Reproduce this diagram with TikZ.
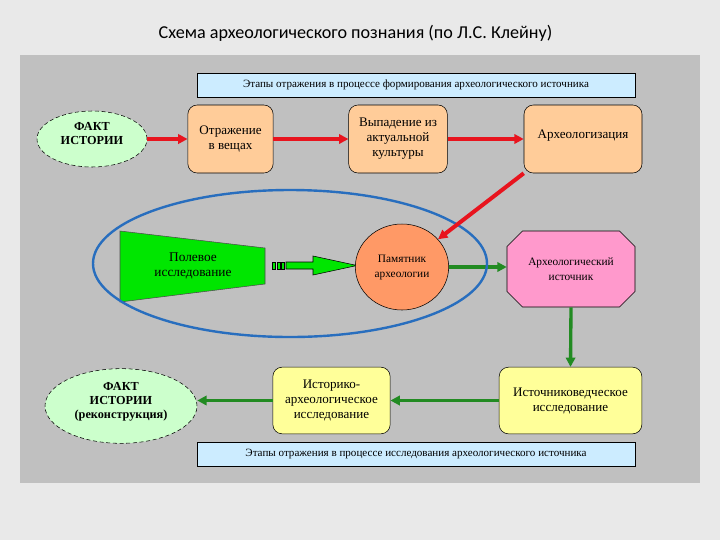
\documentclass[tikz,border=0pt]{standalone}
\usepackage{fontspec}
\setmainfont{Liberation Serif}
\newfontfamily\titlefont{Carlito}
\usetikzlibrary{arrows.meta,positioning,shapes.geometric,shapes.misc}
\definecolor{kouter}{RGB}{233,233,233}
\definecolor{kpanel}{RGB}{192,192,192}
\definecolor{kblue}{RGB}{204,236,255}
\definecolor{kpeach}{RGB}{255,204,153}
\definecolor{kmint}{RGB}{204,255,204}
\definecolor{korange}{RGB}{255,153,102}
\definecolor{kpink}{RGB}{255,153,204}
\definecolor{kyellow}{RGB}{255,255,153}
\definecolor{kgreen}{RGB}{0,230,0}
\definecolor{kdarkgreen}{RGB}{34,139,34}
\definecolor{kred}{RGB}{232,20,30}
\definecolor{kring}{RGB}{40,110,190}

\begin{document}
\begin{tikzpicture}[x=0.75pt,y=-0.75pt,
  stagebox/.style={draw,rounded corners=7pt,fill=kpeach,align=center,inner sep=2pt,
    minimum height=51pt,font=\fontsize{9.8}{11.25}\selectfont},
  studybox/.style={stagebox,fill=kyellow,minimum height=50pt},
  factnode/.style={ellipse,draw,densely dashed,fill=kmint,align=center,inner sep=0pt,
    text depth=8pt,font=\fontsize{9.2}{10.5}\selectfont\bfseries},
  stagebar/.style={draw,fill=kblue,minimum width=328.5pt,minimum height=18pt,
    font=\fontsize{8.3}{10}\selectfont},
  smalltext/.style={align=center,inner sep=0pt,font=\fontsize{8.5}{11.25}\selectfont},
  redarrow/.style={draw=kred,line width=3pt,-{Triangle[length=7pt,width=7pt]}},
  greenarrow/.style={draw=kdarkgreen,line width=2.5pt,-{Triangle[length=7pt,width=7pt]}}]
  \useasboundingbox (0,0) rectangle (720,540);
  \fill[kouter] (0,0) rectangle (720,540);
  \fill[kpanel] (20,55) rectangle (700,483);
  \node[font=\titlefont\fontsize{13.6}{15}\selectfont] (title) at (355.5,33)
    {Схема археологического познания (по Л.С. Клейну)};
  % formation of the source
  \node[stagebar] (topbar) at (416,85) {Этапы отражения в процессе формирования археологического источника};
  \node[factnode,minimum width=82.5pt,minimum height=42pt] (fact) at (92,139) {ФАКТ\\ИСТОРИИ};
  \node[stagebox,minimum width=64pt] (reflect) at (230.5,139) {Отражение\\в вещах};
  \node[stagebox,minimum width=74pt] (dropout) at (398,139) {Выпадение из\\актуальной\\культуры};
  \node[stagebox,minimum width=88.5pt,text depth=7pt] (archaeol) at (583,139) {Археологизация};
  % field work
  \draw[fill=kgreen,draw=black!70,thin] (120,231) -- (265,248) -- (265,284) -- (120,302) -- cycle;
  \node[align=center,font=\fontsize{10}{11.25}\selectfont] (field) at (193,266) {Полевое\\исследование};
  \draw[fill=kgreen,thin] (286,262) -- (313,262) -- (313,256) -- (357,265.5) -- (313,275) -- (313,269) -- (286,269) -- cycle;
  \foreach \x in {272,277,281}
    \draw[fill=kgreen,thin] (\x,262) rectangle ++(3,7);
  \node[ellipse,draw,fill=korange,minimum width=70pt,minimum height=64.5pt,smalltext] (monument) at (402,267) {Памятник\\археологии};
  \node[chamfered rectangle,chamfered rectangle xsep=11.25pt,draw,fill=kpink,minimum width=96pt,minimum height=57pt,smalltext] (source) at (571,269) {Археологический\\источник};
  % study of the source
  \node[studybox,minimum width=107pt] (srcstudy) at (570.5,400.5) {Источниковедческое\\исследование};
  \node[studybox,minimum width=88pt] (histstudy) at (331.5,400.5) {Историко-\\археологическое\\исследование};
  \node[factnode,minimum width=114pt,minimum height=56pt] (factrec) at (121,406) {ФАКТ\\ИСТОРИИ\\(реконструкция)};
  \node[stagebar] (botbar) at (416,454.5) {Этапы отражения в процессе исследования археологического источника};
  % connectors
  \draw[greenarrow] (monument.east) -- (source.west |- monument.east);
  \draw[greenarrow] (source.south) -- (srcstudy.north);
  \draw[greenarrow] (srcstudy) -- (histstudy);
  \draw[greenarrow] (histstudy.west) -- (histstudy.west -| factrec.east);
  \draw[kring,line width=1.8pt] (290,263.5) ellipse [x radius=197,y radius=73.5];
  \draw[redarrow] (fact) -- (reflect);
  \draw[redarrow] (reflect) -- (dropout);
  \draw[redarrow] (dropout) -- (archaeol);
  \draw[redarrow] (archaeol.south west) -- (monument);
\end{tikzpicture}
\end{document}
